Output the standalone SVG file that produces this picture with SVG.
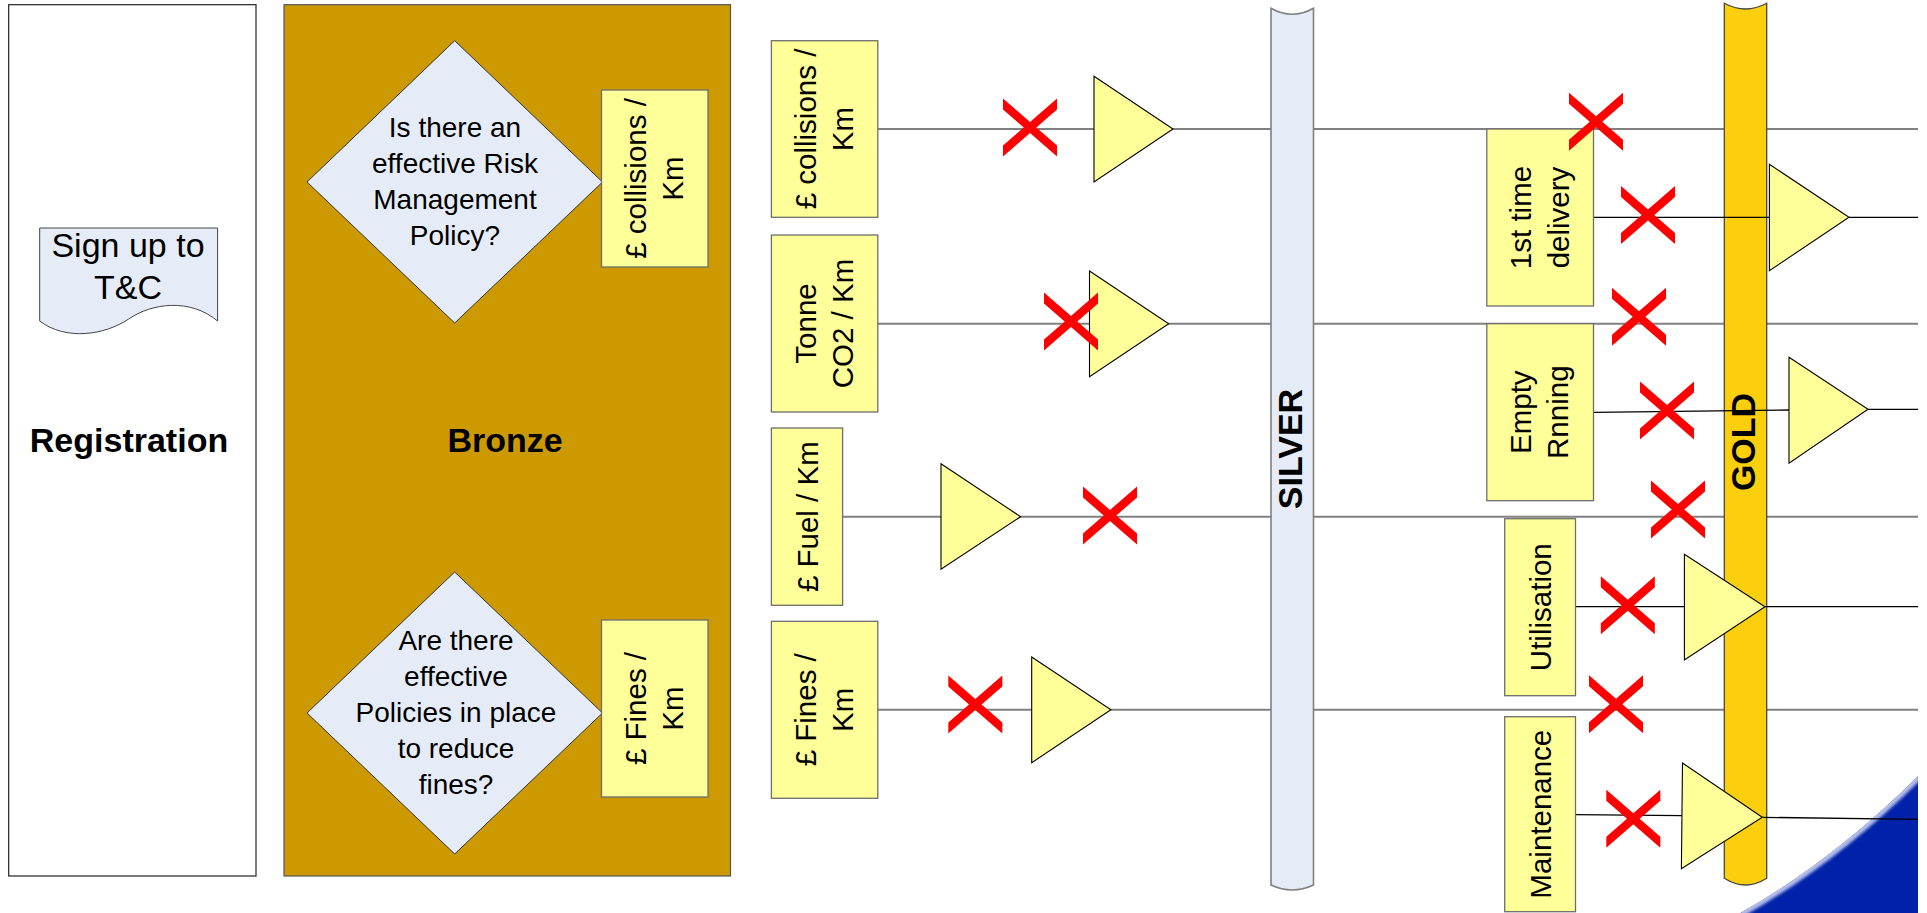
<svg xmlns="http://www.w3.org/2000/svg" width="1927" height="913" viewBox="0 0 1927 913">
<style>
  text { font-family: "Liberation Sans", Arial, sans-serif; fill: #000; }
  .big { font-size: 34px; font-weight: bold; text-anchor: middle; }
  .bar { font-size: 34px; font-weight: bold; text-anchor: middle; }
  .q { font-size: 28px; text-anchor: middle; }
  .doc { font-size: 34px; text-anchor: middle; }
  .m { font-size: 29.5px; text-anchor: middle; }
  .box { fill: #FFFF99; stroke: #6E6E6E; stroke-width: 1.3; }
  .tri { fill: #FFFF99; stroke: #000; stroke-width: 1.1; }
  .dia { fill: #E6ECF7; stroke: #333; stroke-width: 1; }
  .main { stroke: #808080; stroke-width: 2; fill: none; }
  .conn { stroke: #000; stroke-width: 1.3; fill: none; }
  .cross { fill: #FF0000; }
</style>
<defs>
  <g id="x">
    <polygon points="-27,-29 27,18 27,29 -27,-18"/>
    <polygon points="-27,18 27,-29 27,-18 -27,29"/>
  </g>
  <clipPath id="bc"><path d="M1918,776 Q1831,862 1740,913 L1918,913 Z"/></clipPath>
  <filter id="blur" x="-10%" y="-10%" width="120%" height="120%"><feGaussianBlur stdDeviation="1.6"/></filter>
</defs>

<rect width="1927" height="913" fill="#FFFFFF"/>

<!-- Lanes -->
<g id="registration">
  <rect x="8.7" y="4.7" width="247.3" height="871.3" fill="#FFFFFF" stroke="#222" stroke-width="1.2"/>
  <text class="big" x="129" y="452">Registration</text>
</g>
<g id="bronze">
  <rect x="284" y="4.7" width="446.5" height="871.3" fill="#CC9900" stroke="#555" stroke-width="1.2"/>
  <text class="big" x="505" y="452">Bronze</text>
</g>

<!-- Blue corner -->
<g id="corner" clip-path="url(#bc)">
  <path d="M1918,776 Q1831,862 1740,913 L1918,913 Z" fill="#0022AA"/>
  <path d="M1918,776 Q1831,862 1740,913" fill="none" stroke="#B4BEEA" stroke-width="9" filter="url(#blur)"/>
</g>

<!-- Main connector lines -->
<g id="connectors">
  <path class="main" d="M877.8,129 H1918"/>
  <path class="main" d="M877.8,323.7 H1918"/>
  <path class="main" d="M842.6,516.7 H1918"/>
  <path class="main" d="M877.8,709.7 H1918"/>
</g>

<!-- Bars -->
<g id="silver">
  <path d="M1271,8.3 Q1292.2,20.3 1313.5,8.3 L1313.5,885 Q1292.2,895 1271,885 Z" fill="#E6ECF7" stroke="#808080" stroke-width="1.6"/>
  <text class="bar" transform="translate(1301.5,449) rotate(-90)" x="0" y="0">SILVER</text>
</g>
<g id="gold">
  <path d="M1724.3,3.3 Q1745.5,14.7 1766.7,3.3 L1766.7,878.3 Q1745.5,891.7 1724.3,878.3 Z" fill="#FBCF0C" stroke="#444" stroke-width="1.3"/>
  <text class="bar" transform="translate(1755,442) rotate(-90)" x="0" y="0">GOLD</text>
</g>

<!-- Right side connectors -->
<g id="connectors-gold">
  <path class="conn" d="M1593.5,217.3 H1769.4 M1849,217.3 H1918"/>
  <path class="conn" d="M1593.5,412.3 L1789,410 M1868,409.3 H1918"/>
  <path class="conn" d="M1575.5,606.7 H1684.4 M1765,606.7 H1918"/>
  <path class="conn" d="M1575.5,814.7 L1682,815.7 M1762.3,817.3 L1918,819.3"/>
</g>

<!-- Sign-up document -->
<g id="signup">
  <path d="M39.7,228 H217.6 V321 C190,298 152,303 128.6,319 C105,335 66,341 39.7,321 Z" fill="#E6ECF7" stroke="#444" stroke-width="1"/>
  <text class="doc" x="128" y="257">Sign up to</text>
  <text class="doc" x="128" y="299">T&amp;C</text>
</g>

<!-- Diamonds -->
<g id="decision1">
  <polygon class="dia" points="454.7,40.7 602.5,182 454.7,323 307,182"/>
  <text class="q" x="455" y="136.5">Is there an</text>
  <text class="q" x="455" y="172.5">effective Risk</text>
  <text class="q" x="455" y="208.5">Management</text>
  <text class="q" x="455" y="244.5">Policy?</text>
</g>
<g id="decision2">
  <polygon class="dia" points="454.7,572 602.5,713 454.7,854 307,713"/>
  <text class="q" x="456" y="650">Are there</text>
  <text class="q" x="456" y="686">effective</text>
  <text class="q" x="456" y="722">Policies in place</text>
  <text class="q" x="456" y="758">to reduce</text>
  <text class="q" x="456" y="794">fines?</text>
</g>

<!-- Bronze metric boxes -->
<g id="bronze-collisions">
  <rect class="box" x="601.5" y="90" width="106.5" height="177"/>
  <g transform="translate(654.8,178.5) rotate(-90)">
    <text class="m" x="0" y="-8.5">£ collisions /</text>
    <text class="m" x="0" y="28.5">Km</text>
  </g>
</g>
<g id="bronze-fines">
  <rect class="box" x="601.5" y="620" width="106.5" height="177"/>
  <g transform="translate(654.8,708.5) rotate(-90)">
    <text class="m" x="0" y="-8.5">£ Fines /</text>
    <text class="m" x="0" y="28.5">Km</text>
  </g>
</g>

<!-- Silver metric boxes -->
<g id="silver-collisions">
  <rect class="box" x="771.4" y="40.7" width="106.4" height="176.6"/>
  <g transform="translate(824.6,129) rotate(-90)">
    <text class="m" x="0" y="-8.5">£ collisions /</text>
    <text class="m" x="0" y="28.5">Km</text>
  </g>
</g>
<g id="silver-co2">
  <rect class="box" x="771.4" y="235" width="106.4" height="177"/>
  <g transform="translate(824.6,323.5) rotate(-90)">
    <text class="m" x="0" y="-8.5">Tonne</text>
    <text class="m" x="0" y="28.5">CO2 / Km</text>
  </g>
</g>
<g id="silver-fuel">
  <rect class="box" x="771.4" y="428" width="71.2" height="177.3"/>
  <g transform="translate(807,516.7) rotate(-90)">
    <text class="m" x="0" y="11">£ Fuel / Km</text>
  </g>
</g>
<g id="silver-fines">
  <rect class="box" x="771.4" y="621.3" width="106.4" height="177"/>
  <g transform="translate(824.6,709.8) rotate(-90)">
    <text class="m" x="0" y="-8.5">£ Fines /</text>
    <text class="m" x="0" y="28.5">Km</text>
  </g>
</g>

<!-- Gold metric boxes -->
<g id="gold-delivery">
  <rect class="box" x="1486.8" y="129" width="106.7" height="177"/>
  <g transform="translate(1540.2,217.5) rotate(-90)">
    <text class="m" x="0" y="-9">1st time</text>
    <text class="m" x="0" y="28.5">delivery</text>
  </g>
</g>
<g id="gold-empty">
  <rect class="box" x="1486.8" y="323.7" width="106.7" height="177"/>
  <g transform="translate(1540.2,412.2) rotate(-90)">
    <text class="m" x="0" y="-9">Empty</text>
    <text class="m" x="0" y="28">Rnning</text>
  </g>
</g>
<g id="gold-utilisation">
  <rect class="box" x="1504.7" y="518.7" width="70.8" height="177"/>
  <g transform="translate(1540.1,607.2) rotate(-90)">
    <text class="m" x="0" y="11">Utilisation</text>
  </g>
</g>
<g id="gold-maintenance">
  <rect class="box" x="1504.7" y="716.7" width="70.8" height="195"/>
  <g transform="translate(1540.1,814.2) rotate(-90)">
    <text class="m" x="0" y="11">Maintenance</text>
  </g>
</g>

<!-- Triangles (gates) -->
<g id="gates">
  <polygon class="tri" points="1094,76.3 1173,129 1094,182"/>
  <polygon class="tri" points="1089.5,271 1168.7,323.7 1089.5,376.7"/>
  <polygon class="tri" points="941,463.7 1020.6,516.7 941,569.3"/>
  <polygon class="tri" points="1031.7,657 1110.9,709.7 1031.7,762.7"/>
  <polygon class="tri" points="1769.4,164.3 1849,217.3 1769.4,270.7"/>
  <polygon class="tri" points="1789,357.3 1868,409.3 1789,463.3"/>
  <polygon class="tri" points="1684.4,554.3 1765,606.7 1684.4,660"/>
  <polygon class="tri" points="1682.5,763 1762.3,817.3 1681.4,868.7"/>
</g>

<!-- Red crosses -->
<g id="crosses" class="cross">
  <use href="#x" transform="translate(1030,127.5)"/>
  <use href="#x" transform="translate(1071,321.5)"/>
  <use href="#x" transform="translate(1110,515.5)"/>
  <use href="#x" transform="translate(975.3,704.5)"/>
  <use href="#x" transform="translate(1596,121.7)"/>
  <use href="#x" transform="translate(1648,215)"/>
  <use href="#x" transform="translate(1639,316.7)"/>
  <use href="#x" transform="translate(1667,410.5)"/>
  <use href="#x" transform="translate(1678,509.5)"/>
  <use href="#x" transform="translate(1627.8,605.2)"/>
  <use href="#x" transform="translate(1616,704.2)"/>
  <use href="#x" transform="translate(1633.3,818.8)"/>
</g>
</svg>
